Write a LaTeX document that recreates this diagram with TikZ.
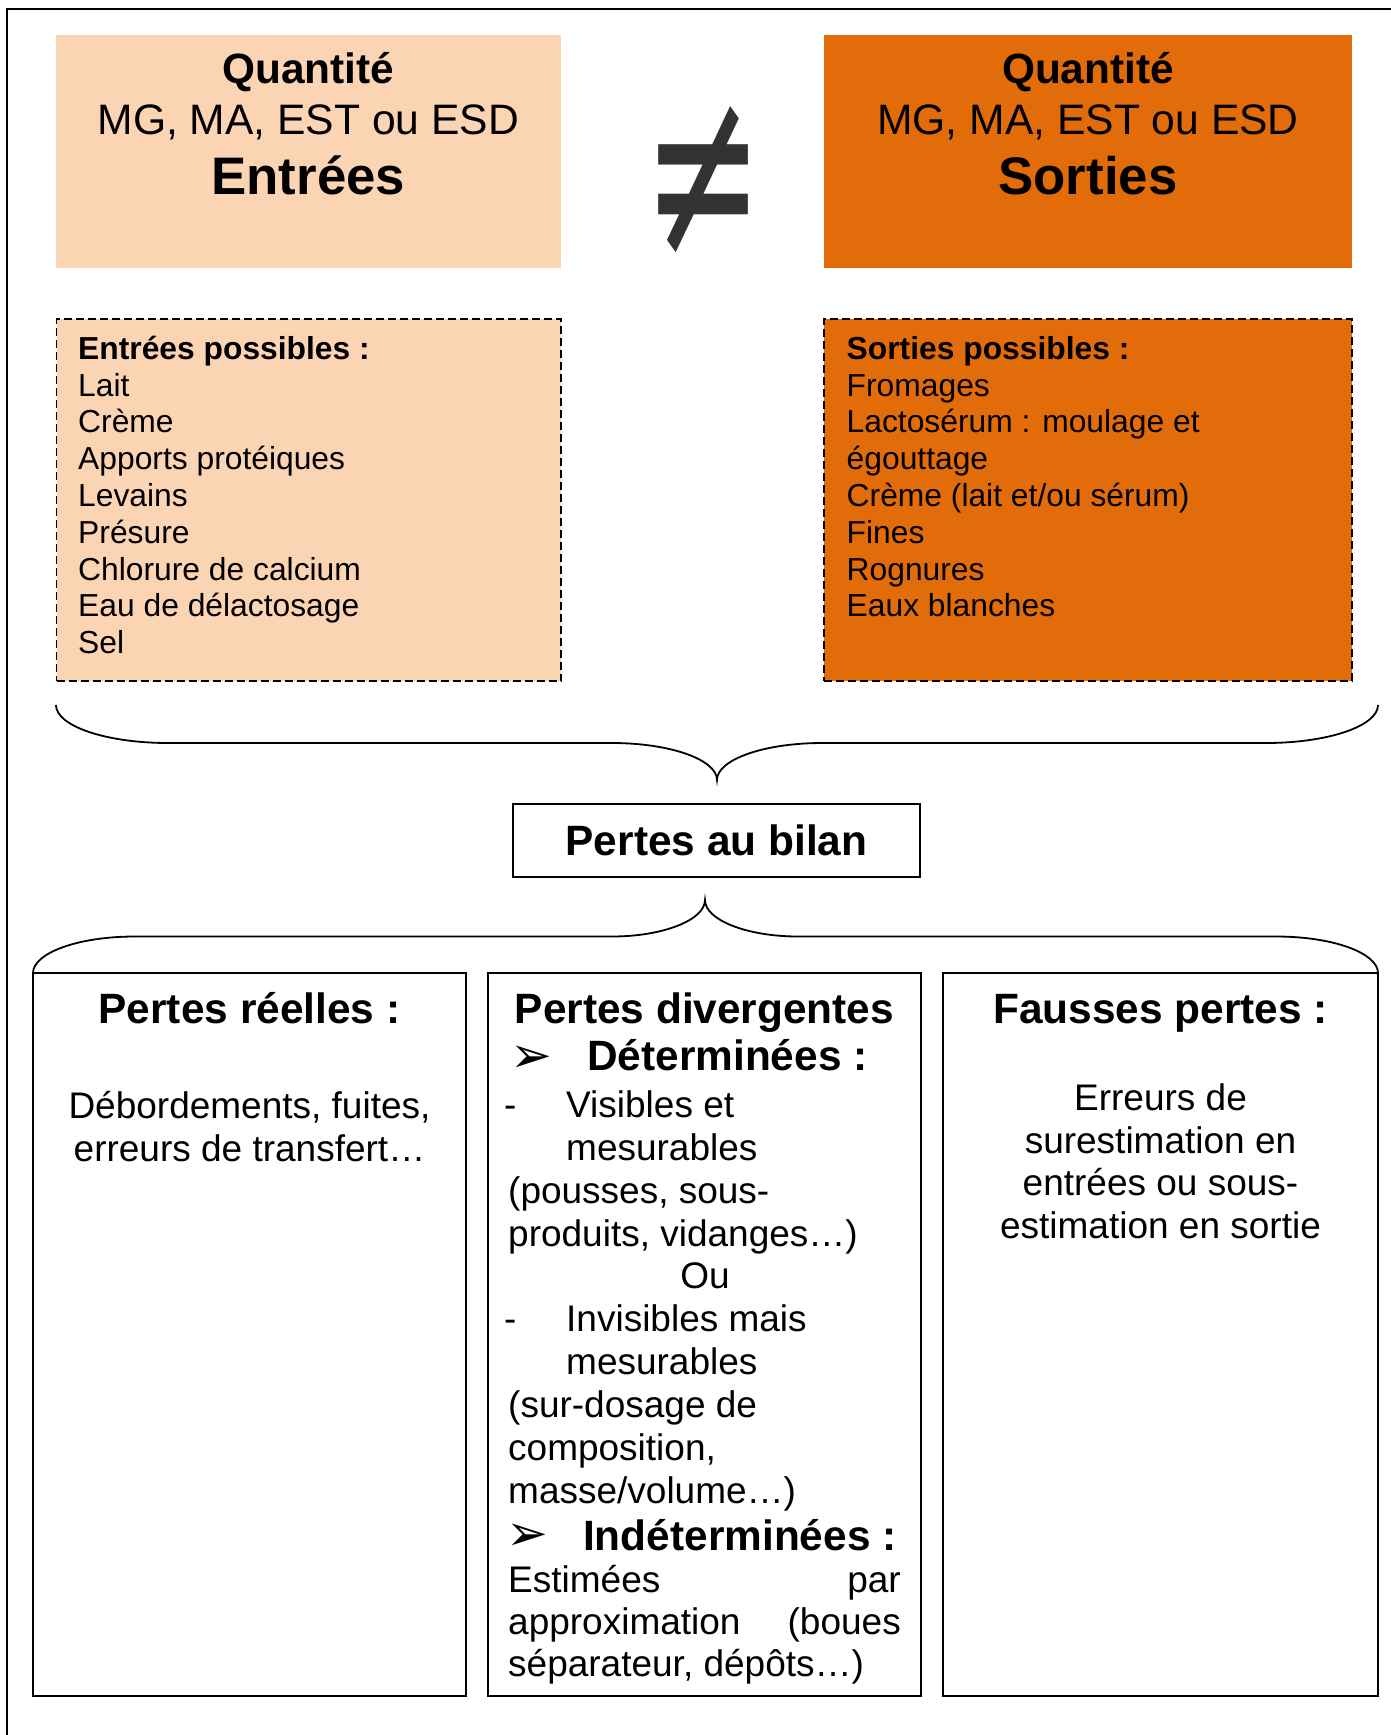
\documentclass[tikz,border=0pt]{standalone}
\usepackage{graphicx}
\usepackage{fontspec}
\setmainfont{Liberation Sans}
\newfontfamily\symfont{DejaVu Sans}
\definecolor{peach}{HTML}{FBD4B4}
\definecolor{dorange}{HTML}{E36C0A}
\definecolor{neqgray}{HTML}{333333}
\tikzset{
  boxnode/.style={inner sep=0pt, outer sep=0pt},
  framebox/.style={boxnode, draw=black, line width=2pt},
  dashbox/.style={boxnode, draw=black, line width=1.8pt, dash pattern=on 8pt off 4pt},
  lineL/.style={inner sep=0pt, anchor=base west},
  lineR/.style={inner sep=0pt, anchor=base east},
  lineC/.style={inner sep=0pt, anchor=base},
  hugebold/.style={font=\fontsize{52.8}{60}\selectfont\bfseries},
  headbold/.style={font=\fontsize{42.4}{49}\selectfont\bfseries},
  headreg/.style={font=\fontsize{42.6}{49}\selectfont},
  listbold/.style={font=\fontsize{31.8}{36.8}\selectfont\bfseries},
  listreg/.style={font=\fontsize{31.8}{36.8}\selectfont},
  bodyreg/.style={font=\fontsize{37}{43}\selectfont},
  bulletarrow/.style={inner sep=0pt, anchor=center, font=\symfont\fontsize{50}{50}\selectfont},
  bracepath/.style={draw=black, line width=1.8pt}
}
\begin{document}
\begin{tikzpicture}[x=1pt,y=-1pt]
\useasboundingbox (0,0) rectangle (1391,1735);
% outer frame (right and bottom sides fall outside the picture)
\draw[line width=2pt] (6.5,1735) -- (6.5,9) -- (1391,9);

% top boxes
\node[boxnode, fill=peach, minimum width=505.5pt, minimum height=233pt] (inbox) at (308.25,151) {};
\node[boxnode, fill=dorange, minimum width=528pt, minimum height=233pt] (outbox) at (1088,151) {};
\node[lineC, headbold] (inq) at (308.25,83) {Quantité};
\node[lineC, headreg] (inmg) at (308.25,134) {MG, MA, EST ou ESD};
\node[lineC, hugebold] (inttl) at (308.25,194) {Entrées};
\node[lineC, headbold] (outq) at (1088,83) {Quantité};
\node[lineC, headreg] (outmg) at (1088,134) {MG, MA, EST ou ESD};
\node[lineC, hugebold] (outttl) at (1088,194) {Sorties};
\node[inner sep=0pt, anchor=center, text=neqgray] (neq) at (704,182) {\resizebox*{120pt}{151pt}{\symfont ≠}};

% dashed lists
\node[dashbox, fill=peach, minimum width=504.5pt, minimum height=362pt] (inlist) at (308.75,500) {};
\node[dashbox, fill=dorange, minimum width=528pt, minimum height=362pt] (outlist) at (1088,500) {};
\node[lineL, listbold] (il0) at (78,359.3) {Entrées possibles :};
\node[lineL, listreg] (il1) at (78,396.1) {Lait};
\node[lineL, listreg] (il2) at (78,432.9) {Crème};
\node[lineL, listreg] (il3) at (78,469.7) {Apports protéiques};
\node[lineL, listreg] (il4) at (78,506.5) {Levains};
\node[lineL, listreg] (il5) at (78,543.3) {Présure};
\node[lineL, listreg] (il6) at (78,580.1) {Chlorure de calcium};
\node[lineL, listreg] (il7) at (78,616.9) {Eau de délactosage};
\node[lineL, listreg] (il8) at (78,653.7) {Sel};
\node[lineL, listbold] (ol0) at (846.5,359.3) {Sorties possibles :};
\node[lineL, listreg] (ol1) at (846.5,396.1) {Fromages};
\node[lineL, listreg] (ol2) at (846.5,432.9) {Lactosérum : moulage et};
\node[lineL, listreg] (ol3) at (846.5,469.7) {égouttage};
\node[lineL, listreg] (ol4) at (846.5,506.5) {Crème (lait et/ou sérum)};
\node[lineL, listreg] (ol5) at (846.5,543.3) {Fines};
\node[lineL, listreg] (ol6) at (846.5,580.1) {Rognures};
\node[lineL, listreg] (ol7) at (846.5,616.9) {Eaux blanches};

% first brace
\coordinate (b1L) at (56,705);
\coordinate (b1R) at (1378,705);
\coordinate (b1T) at (717,780);
\draw[bracepath] (b1L) .. controls (56,726) and (106,743) .. (168,743) -- (612,743)
  .. controls (670,743) and (717,759.6) .. (b1T)
  .. controls (717,759.6) and (764,743) .. (822,743) -- (1266,743)
  .. controls (1328,743) and (1378,726) .. (b1R);

% central box
\node[framebox, minimum width=407pt, minimum height=73pt] (bilan) at (716.5,840.5) {};
\node[lineC, headbold] (bilant) at (716.5,855) {Pertes au bilan};

% second brace
\coordinate (b2L) at (33,973);
\coordinate (b2R) at (1378,973);
\coordinate (b2T) at (705,900);
\draw[bracepath] (b2L) .. controls (33,953.4) and (77,936.5) .. (135,936.5) -- (612,936.5)
  .. controls (663,936.5) and (705,920) .. (b2T)
  .. controls (705,920) and (747,936.5) .. (798,936.5) -- (1276,936.5)
  .. controls (1334,936.5) and (1378,953.4) .. (b2R);

% bottom boxes
\node[framebox, minimum width=433pt, minimum height=723pt] (reel) at (249.5,1334.5) {};
\node[framebox, minimum width=433pt, minimum height=723pt] (diverg) at (704.5,1334.5) {};
\node[framebox, minimum width=435pt, minimum height=723pt] (fausse) at (1160.5,1334.5) {};

% box 1
\node[lineC, headbold] (r0) at (249.5,1023.5) {Pertes réelles :};
\node[lineC, bodyreg] (r1) at (249.5,1118) {Débordements, fuites,};
\node[lineC, bodyreg] (r2) at (249.5,1161) {erreurs de transfert…};

% box 3
\node[lineC, headbold] (f0) at (1160.5,1023.5) {Fausses pertes :};
\node[lineC, bodyreg] (f1) at (1160.5,1110) {Erreurs de};
\node[lineC, bodyreg] (f2) at (1160.5,1153) {surestimation en};
\node[lineC, bodyreg] (f3) at (1160.5,1195.5) {entrées ou sous-};
\node[lineC, bodyreg] (f4) at (1160.5,1238.5) {estimation en sortie};

% box 2
\node[lineC, headbold] (d0) at (704.5,1023.5) {Pertes divergentes};
\node[bulletarrow] (d1a) at (531,1059) {➢};
\node[lineL, headbold] (d1) at (587,1070) {Déterminées :};
\node[lineL, bodyreg] (d2a) at (504,1117) {-};
\node[lineL, bodyreg] (d2) at (566,1117) {Visibles et};
\node[lineL, bodyreg] (d3) at (566,1160) {mesurables};
\node[lineL, bodyreg] (d4) at (508,1203) {(pousses, sous-};
\node[lineL, bodyreg] (d5) at (508,1246) {produits, vidanges…)};
\node[lineC, bodyreg] (d6) at (705,1288.5) {Ou};
\node[lineL, bodyreg] (d7a) at (504,1331.5) {-};
\node[lineL, bodyreg] (d7) at (566,1331.5) {Invisibles mais};
\node[lineL, bodyreg] (d8) at (566,1374.5) {mesurables};
\node[lineL, bodyreg] (d9) at (508,1417.5) {(sur-dosage de};
\node[lineL, bodyreg] (d10) at (508,1460.5) {composition,};
\node[lineL, bodyreg] (d11) at (508,1503) {masse/volume…)};
\node[bulletarrow] (d12a) at (527.5,1537.5) {➢};
\node[lineL, headbold] (d12) at (583,1550.5) {Indéterminées :};
\node[lineL, bodyreg] (d13) at (508,1592) {Estimées};
\node[lineR, bodyreg] (d13b) at (901,1592) {par};
\node[lineL, bodyreg] (d14) at (508,1634.5) {approximation};
\node[lineR, bodyreg] (d14b) at (901,1634.5) {(boues};
\node[lineL, bodyreg] (d15) at (508,1676.5) {séparateur, dépôts…)};
\end{tikzpicture}
\end{document}
